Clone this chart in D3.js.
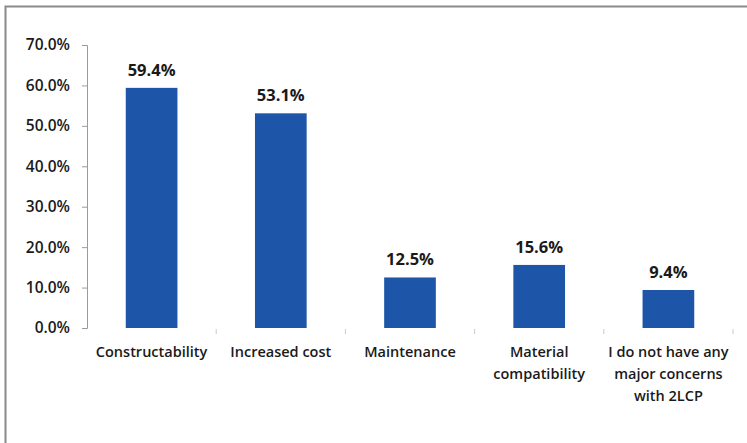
<!doctype html>
<html>
<head>
<meta charset="utf-8">
<script src="https://d3js.org/d3.v7.min.js"></script>
<style>
  body { margin: 0; background: #fff; }
  text { font-family: "Open Sans", Lato, sans-serif; fill: #1a1a1a; }
</style>
</head>
<body>
<svg width="747" height="443"></svg>
<script>
// chart data
var categories = ["Constructability", "Increased cost", "Maintenance", "Material compatibility", "I do not have any major concerns with 2LCP"];
var labelLines = [["Constructability"], ["Increased cost"], ["Maintenance"], ["Material", "compatibility"], ["I do not have any", "major concerns", "with 2LCP"]];
var values = [59.4, 53.1, 12.5, 15.6, 9.4];
var yTicks = [0, 10, 20, 30, 40, 50, 60, 70];

var svg = d3.select("svg");

// outer frame
svg.append("rect")
   .attr("x", 5.5).attr("y", 6.5)
   .attr("width", 760).attr("height", 460)
   .attr("fill", "none")
   .attr("stroke", "#8a8a8a")
   .attr("stroke-width", 2);

var plotLeft = 87, plotRight = 733, plotTop = 45, plotBottom = 328;

var x = d3.scaleBand().domain(categories).range([plotLeft, plotRight]).paddingInner(0.6).paddingOuter(0.3);
var y = d3.scaleLinear().domain([0, 70]).range([plotBottom, plotTop]);

// y axis
var yAxis = svg.append("g")
   .attr("transform", "translate(" + plotLeft + ",0)")
   .call(d3.axisLeft(y).tickValues(yTicks).tickSize(5).tickPadding(12)
         .tickFormat(function(d) { return d.toFixed(1) + "%"; }));
yAxis.select(".domain").attr("stroke", "#9a9aa6");
yAxis.selectAll(".tick line").attr("stroke", "#9a9aa6");
yAxis.selectAll(".tick text").attr("font-size", "15.5px").attr("font-weight", "600")
     .attr("fill", "#1a1a1a")
     .style("font-family", "'Open Sans', sans-serif");

// x category ticks at band boundaries
var step = x.step();
var bounds = categories.map(function(c) { return x(c) + x.bandwidth() / 2 + step / 2; });
svg.append("g").selectAll("line")
   .data(bounds)
   .enter().append("line")
   .attr("x1", function(d) { return d; }).attr("x2", function(d) { return d; })
   .attr("y1", plotBottom + 1).attr("y2", plotBottom + 6)
   .attr("stroke", "#c8c8d0");

// bars
svg.append("g").selectAll("rect")
   .data(values)
   .enter().append("rect")
   .attr("x", function(d, i) { return x(categories[i]); })
   .attr("y", function(d) { return y(d); })
   .attr("width", x.bandwidth())
   .attr("height", function(d) { return plotBottom - y(d); })
   .attr("fill", "#1d56a8");

// value labels
svg.append("g").selectAll("text")
   .data(values)
   .enter().append("text")
   .attr("x", function(d, i) { return x(categories[i]) + x.bandwidth() / 2; })
   .attr("y", function(d) { return y(d) - 12; })
   .attr("text-anchor", "middle")
   .attr("font-size", "16.5px")
   .attr("font-weight", "bold")
   .text(function(d) { return d.toFixed(1) + "%"; });

// category labels
var lab = svg.append("g").selectAll("text")
   .data(categories)
   .enter().append("text")
   .attr("x", function(d) { return x(d) + x.bandwidth() / 2; })
   .attr("y", plotBottom + 29)
   .attr("text-anchor", "middle")
   .attr("font-size", "14.5px")
   .attr("font-weight", "600");
lab.each(function(d, i) {
  var t = d3.select(this);
  labelLines[i].forEach(function(line, j) {
    t.append("tspan")
     .attr("x", x(d) + x.bandwidth() / 2)
     .attr("dy", j === 0 ? 0 : 22)
     .text(line);
  });
});
</script>
</body>
</html>
